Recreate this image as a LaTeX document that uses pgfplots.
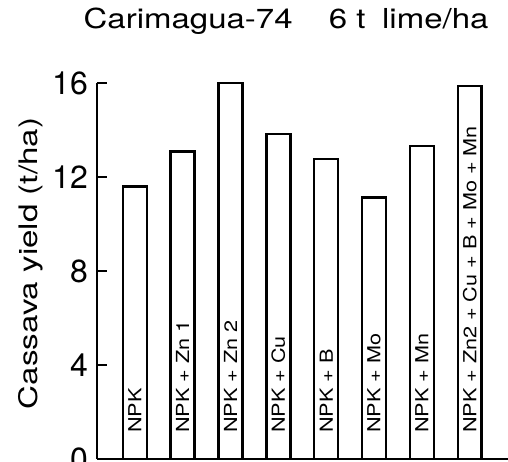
\documentclass[border=0pt]{standalone}
\usepackage{fontspec}
\setmainfont{TeX Gyre Heros}
\usepackage{graphicx}
\usepackage{pgfplots}
\pgfplotsset{compat=1.18}
\usepackage{pgfplotstable}

% the original lettering is a wide grotesque: stretch along the text
\newcommand{\wide}[2][1.28]{\scalebox{#1}[1]{#2}}

\pgfplotstableread{
x y
0 11.6
1 13.08
2 16.0
3 13.83
4 12.77
5 11.12
6 13.32
7 15.87
}\yields

\pgfplotstableread[col sep=comma]{
x,y,lab
0,1.1,NPK
1,1.1,NPK + Zn 1
2,1.1,NPK + Zn 2
3,1.1,NPK + Cu
4,1.1,NPK + B
5,1.1,NPK + Mo
6,1.1,NPK + Mn
7,1.1,NPK + Zn2 + Cu + B + Mo + Mn
}\labels

\begin{document}
\begin{tikzpicture}
    \begin{axis}[
            scale only axis,
            width=411pt,
            height=376pt,
            xmin=-0.79,
            xmax=7.8,
            ymin=0,
            ymax=16,
            axis lines*=left,
            xtick=\empty,
            ytick={0,4,8,12,16},
            tick align=inside,
            major tick length=10pt,
            tick style={line width=2.4pt, black},
            axis line style={line width=2.6pt},
            /pgf/number format/assume math mode=true,
            yticklabel style={font=\fontsize{32}{32}\selectfont, inner sep=9pt},
            ylabel={\wide[1.3]{Cassava yield (t/ha)}},
            ylabel style={at={(axis description cs:-0.16,0.52)}, anchor=center,
                    font=\fontsize{25.5}{25.5}\selectfont},
            title={\wide[1.2]{Carimagua-74\hspace{1.1em}6 t\hspace{0.5em}lime/ha}},
            title style={at={(axis description cs:0.46,1.128)}, anchor=base,
                    font=\fontsize{27.5}{27.5}\selectfont},
            clip=false,
        ]
        \addplot [ybar, bar width=0.5, draw=black, fill=white, line width=2.5pt]
            table [x=x, y=y] {\yields};
        \addplot [only marks, mark=none,
                nodes near coords={\wide[1.2]{\pgfplotspointmeta}},
                point meta=explicit symbolic,
                every node near coord/.style={rotate=90, anchor=west, inner sep=0pt,
                        font=\fontsize{18}{18}\selectfont}]
            table [x=x, y=y, meta=lab] {\labels};
    \end{axis}
    \pgfresetboundingbox
    \path [use as bounding box] (-97pt,-3pt) rectangle (411pt,459pt);
\end{tikzpicture}
\end{document}
